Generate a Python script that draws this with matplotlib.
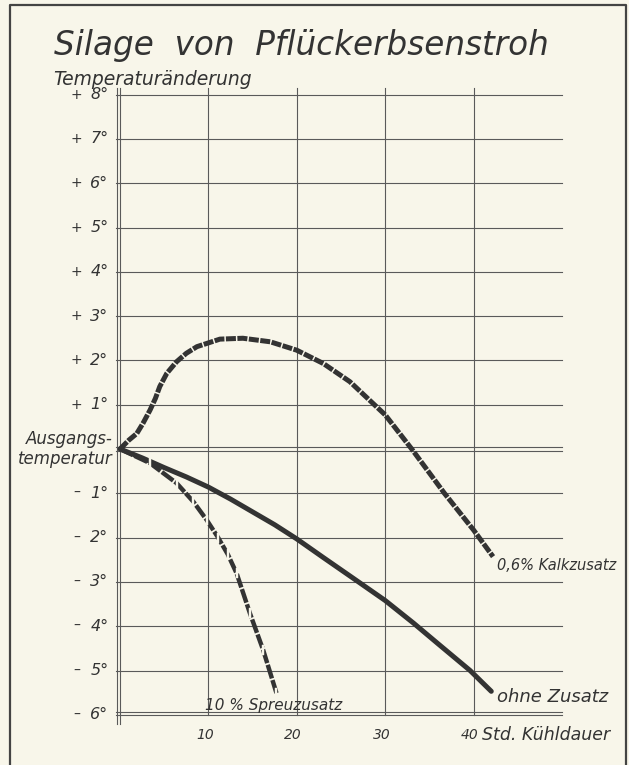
import matplotlib.pyplot as plt
import numpy as np

# Silage von Pflückerbsenstroh - Temperaturänderung über Kühldauer
x_ticks = [10, 20, 30, 40]
y_ticks = [8, 7, 6, 5, 4, 3, 2, 1, -1, -2, -3, -4, -5, -6]

# 0,6 % Kalkzusatz
kalk_t = [0, 1.0, 1.9, 2.6, 3.4, 4.0, 4.5, 5.3, 6.4, 7.5, 8.7, 11.3, 13.9, 17.0,
          20.0, 23.0, 26.0, 30.0, 33.0, 36.7, 40.0, 42.2]
kalk_T = [0, 0.2, 0.35, 0.58, 0.88, 1.14, 1.41, 1.71, 1.97, 2.16, 2.31, 2.48, 2.50, 2.42,
          2.23, 1.93, 1.52, 0.77, 0.0, -1.0, -1.83, -2.43]

# ohne Zusatz
ohne_t = [0, 2.5, 5, 7.5, 10, 12.5, 15, 17.5, 20, 23, 26.4, 30, 33.2, 36, 39.6, 42.0]
ohne_T = [0, -0.2, -0.42, -0.63, -0.86, -1.13, -1.42, -1.71, -2.03, -2.45, -2.92, -3.42,
          -3.93, -4.40, -5.0, -5.47]

# 10 % Spreuzusatz
spreu_t = [0, 3.4, 6.4, 8.3, 9.8, 11.1, 12.2, 13.2, 14.7, 16.2, 17.7]
spreu_T = [0, -0.32, -0.77, -1.19, -1.60, -2.0, -2.38, -2.81, -3.71, -4.54, -5.51]

bg = '#f8f6ea'
ink = '#333333'
grid = '#5a5a5a'

fig = plt.figure(figsize=(6.29, 7.65), dpi=100, facecolor=bg)
ax = fig.add_axes([0, 0, 1, 1])
ax.set_facecolor(bg)
ax.set_axis_off()

# pixel mapping: t=0 -> x 120, 8.84 px per hour; T=0 -> y 449, 44.3 px per degree
ax.set_xlim(-120 / 8.84, (629 - 120) / 8.84)
ax.set_ylim(-(765 - 449) / 44.3, 449 / 44.3)

font = dict(family='DejaVu Sans', style='oblique', color=ink)

# frame
ax.plot([-110 / 8.84, -110 / 8.84, 506 / 8.84, 506 / 8.84],
        [-8, 444 / 44.3, 444 / 44.3, -8], color='#444444', lw=1.6, clip_on=False)

# grid
for v in y_ticks:
    ax.plot([-0.5, 50], [v, v], color=grid, lw=0.8)
ax.plot([-0.5, 50], [0.035, 0.035], color=grid, lw=0.8)
ax.plot([-0.5, 50], [-0.035, -0.035], color=grid, lw=0.8)
ax.plot([-0.5, 50], [-5.93, -5.93], color=grid, lw=0.8)
for v in x_ticks:
    ax.plot([v, v], [8.15, -6.0], color=grid, lw=0.8)
ax.plot([-0.35, -0.35], [8.15, -6.2], color=grid, lw=0.8)
ax.plot([0, 0], [8.15, -6.2], color=grid, lw=0.8)

# curves
ax.plot(kalk_t, kalk_T, color=ink, lw=3.6, dashes=(2.0, 0.3), solid_capstyle='butt')
ax.plot(ohne_t, ohne_T, color=ink, lw=3.6, solid_capstyle='round')
ax.plot(spreu_t, spreu_T, color=ink, lw=3.2, dashes=(3.2, 0.4))
ax.plot(spreu_t[1:], spreu_T[1:], ls='none', marker='$\u2016$', ms=7,
        color=bg, markeredgewidth=0.3)

# y tick labels
for v in y_ticks:
    sign = '+' if v > 0 else '\u2013'
    ax.text(-4.9, v, sign, ha='center', va='center', fontsize=10, **font)
    ax.text(-1.3, v, f'{abs(v)}°', ha='right', va='center', fontsize=11.5, **font)
ax.text(-0.8, 0.0, 'Ausgangs-\ntemperatur', ha='right', va='center',
        fontsize=12, linespacing=1.15, **font)

# x tick labels
for v in x_ticks:
    ax.text(v - 0.4, -6.45, str(v), ha='center', va='center', fontsize=10, **font)
ax.text(40.95, -6.45, 'Std. Kühldauer', ha='left', va='center', fontsize=12.5, **font)

# titles and labels
ax.text(-7.5, 9.1, 'Silage  von  Pflückerbsenstroh', ha='left', va='center',
        fontsize=23.5, fontweight='light', **font)
ax.text(-7.6, 8.35, 'Temperaturänderung', ha='left', va='center', fontsize=13.5, **font)
ax.text(42.6, -2.63, '0,6% Kalkzusatz', ha='left', va='center', fontsize=10.5, **font)
ax.text(42.7, -5.6, 'ohne Zusatz', ha='left', va='center', fontsize=13, **font)
ax.text(9.6, -5.8, '10 % Spreuzusatz', ha='left', va='center', fontsize=11, **font)

fig.savefig('out.png', dpi=100, facecolor=bg)
